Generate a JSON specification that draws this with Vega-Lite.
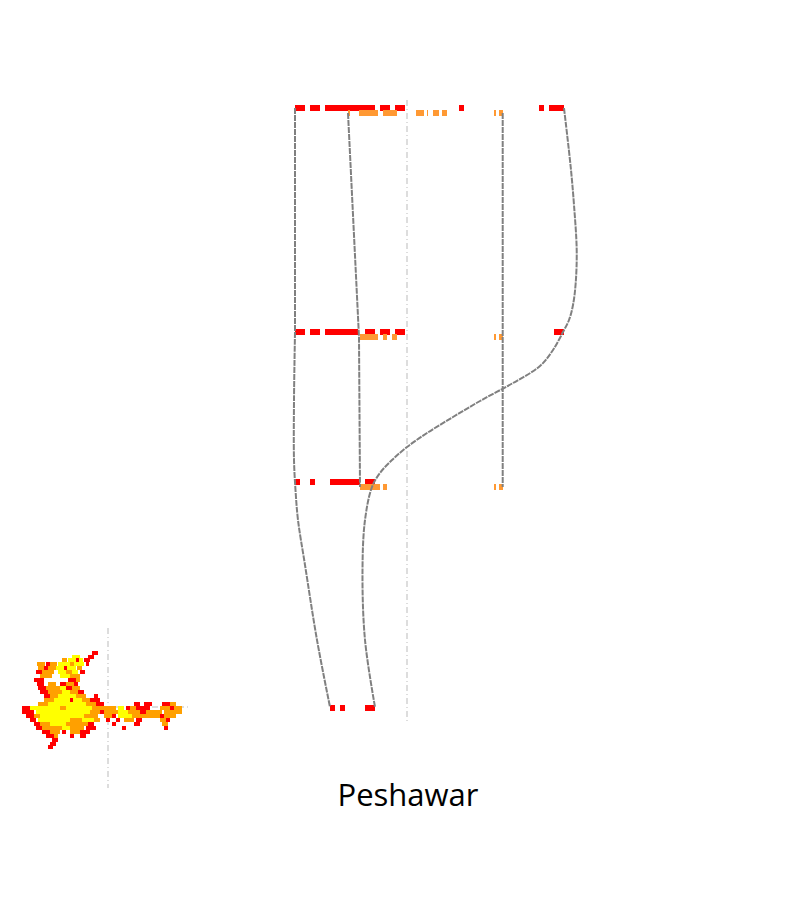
{
  "$schema": "https://vega.github.io/schema/vega-lite/v6.json",
  "width": 800,
  "height": 900,
  "autosize": "none",
  "padding": 0,
  "background": "white",
  "config": {"view": {"stroke": null}, "scale": {"continuousPadding": 0}},
  "encoding": {
    "x": {"field": "x", "type": "quantitative", "scale": {"domain": [0, 800], "nice": false, "zero": false, "padding": 0}, "axis": null},
    "y": {"field": "y", "type": "quantitative", "scale": {"domain": [0, 900], "nice": false, "zero": false, "reverse": true, "padding": 0}, "axis": null}
  },
  "layer": [
    {
      "data": {"values": [
        {"x": 407, "y": 100, "y2": 722},
        {"x": 108, "y": 628, "y2": 788}
      ]},
      "mark": {"type": "rule", "color": "#dddddd", "strokeWidth": 2, "strokeDash": [6, 3, 1, 3]},
      "encoding": {"y2": {"field": "y2"}}
    },
    {
      "data": {"values": [
        {"x": 22, "x2": 188, "y": 707}
      ]},
      "mark": {"type": "rule", "color": "#dddddd", "strokeWidth": 2, "strokeDash": [6, 3, 1, 3]},
      "encoding": {"x2": {"field": "x2"}}
    },
    {
      "data": {"values": [
        {"row": 1, "kind": "red", "x": 295, "x2": 305, "y": 108},
        {"row": 1, "kind": "red", "x": 310, "x2": 320, "y": 108},
        {"row": 1, "kind": "red", "x": 325, "x2": 375, "y": 108},
        {"row": 1, "kind": "red", "x": 380, "x2": 390, "y": 108},
        {"row": 1, "kind": "red", "x": 395, "x2": 405, "y": 108},
        {"row": 1, "kind": "red", "x": 459, "x2": 464, "y": 108},
        {"row": 1, "kind": "red", "x": 539, "x2": 544, "y": 108},
        {"row": 1, "kind": "red", "x": 549, "x2": 564, "y": 108},
        {"row": 1, "kind": "orange", "x": 348, "x2": 350, "y": 113},
        {"row": 1, "kind": "orange", "x": 359, "x2": 378, "y": 113},
        {"row": 1, "kind": "orange", "x": 383, "x2": 397, "y": 113},
        {"row": 1, "kind": "orange", "x": 416, "x2": 424, "y": 113},
        {"row": 1, "kind": "orange", "x": 427, "x2": 428, "y": 113},
        {"row": 1, "kind": "orange", "x": 433, "x2": 439, "y": 113},
        {"row": 1, "kind": "orange", "x": 442, "x2": 447, "y": 113},
        {"row": 1, "kind": "orange", "x": 494, "x2": 496, "y": 113},
        {"row": 1, "kind": "orange", "x": 499, "x2": 503, "y": 113},
        {"row": 2, "kind": "red", "x": 295, "x2": 305, "y": 332},
        {"row": 2, "kind": "red", "x": 310, "x2": 320, "y": 332},
        {"row": 2, "kind": "red", "x": 325, "x2": 358, "y": 332},
        {"row": 2, "kind": "red", "x": 365, "x2": 375, "y": 332},
        {"row": 2, "kind": "red", "x": 380, "x2": 390, "y": 332},
        {"row": 2, "kind": "red", "x": 395, "x2": 405, "y": 332},
        {"row": 2, "kind": "red", "x": 554, "x2": 564, "y": 332},
        {"row": 2, "kind": "orange", "x": 360, "x2": 378, "y": 337},
        {"row": 2, "kind": "orange", "x": 383, "x2": 387, "y": 337},
        {"row": 2, "kind": "orange", "x": 392, "x2": 397, "y": 337},
        {"row": 2, "kind": "orange", "x": 494, "x2": 496, "y": 337},
        {"row": 2, "kind": "orange", "x": 499, "x2": 503, "y": 337},
        {"row": 3, "kind": "red", "x": 295, "x2": 300, "y": 482},
        {"row": 3, "kind": "red", "x": 310, "x2": 315, "y": 482},
        {"row": 3, "kind": "red", "x": 330, "x2": 360, "y": 482},
        {"row": 3, "kind": "red", "x": 365, "x2": 375, "y": 482},
        {"row": 3, "kind": "orange", "x": 360, "x2": 380, "y": 487},
        {"row": 3, "kind": "orange", "x": 383, "x2": 387, "y": 487},
        {"row": 3, "kind": "orange", "x": 494, "x2": 496, "y": 487},
        {"row": 3, "kind": "orange", "x": 499, "x2": 503, "y": 487},
        {"row": 4, "kind": "red", "x": 330, "x2": 335, "y": 708},
        {"row": 4, "kind": "red", "x": 340, "x2": 345, "y": 708},
        {"row": 4, "kind": "red", "x": 365, "x2": 375, "y": 708}
      ]},
      "mark": {"type": "bar", "orient": "horizontal", "size": 6},
      "encoding": {
        "x2": {"field": "x2"},
        "color": {"field": "kind", "type": "nominal", "scale": {"domain": ["red", "orange"], "range": ["#ff0000", "#ff9933"]}, "legend": null}
      }
    },
    {
      "data": {"values": [
        {"path": "B", "i": 1, "x": 348, "y": 113},
        {"path": "B", "i": 2, "x": 359, "y": 337},
        {"path": "B", "i": 3, "x": 360, "y": 487},
        {"path": "C", "i": 1, "x": 502.7, "y": 113},
        {"path": "C", "i": 2, "x": 502.7, "y": 487},
        {"path": "A1", "i": 1, "x": 295, "y": 108},
        {"path": "A1", "i": 2, "x": 295, "y": 332}
      ]},
      "mark": {"type": "line", "color": "#808080", "strokeWidth": 2, "strokeDash": [6, 1]},
      "encoding": {
        "detail": {"field": "path", "type": "nominal"},
        "order": {"field": "i", "type": "quantitative"}
      }
    },
    {
      "data": {"values": [
        {"path": "A2", "i": 1, "x": 295, "y": 332},
        {"path": "A2", "i": 2, "x": 294, "y": 400},
        {"path": "A2", "i": 3, "x": 294, "y": 460},
        {"path": "A2", "i": 4, "x": 295.5, "y": 490},
        {"path": "A2", "i": 5, "x": 298, "y": 520},
        {"path": "A2", "i": 6, "x": 305, "y": 565},
        {"path": "A2", "i": 7, "x": 317, "y": 640},
        {"path": "A2", "i": 8, "x": 330, "y": 707},
        {"path": "D", "i": 1, "x": 564, "y": 108},
        {"path": "D", "i": 2, "x": 570.7, "y": 167},
        {"path": "D", "i": 3, "x": 574, "y": 205},
        {"path": "D", "i": 4, "x": 576.7, "y": 250},
        {"path": "D", "i": 5, "x": 575.7, "y": 283},
        {"path": "D", "i": 6, "x": 573, "y": 305},
        {"path": "D", "i": 7, "x": 569, "y": 320},
        {"path": "D", "i": 8, "x": 563, "y": 332},
        {"path": "D", "i": 9, "x": 553, "y": 350},
        {"path": "D", "i": 10, "x": 540, "y": 366},
        {"path": "D", "i": 11, "x": 513, "y": 383},
        {"path": "D", "i": 12, "x": 480, "y": 401},
        {"path": "D", "i": 13, "x": 453, "y": 417},
        {"path": "D", "i": 14, "x": 427, "y": 433},
        {"path": "D", "i": 15, "x": 407, "y": 447},
        {"path": "D", "i": 16, "x": 392, "y": 460},
        {"path": "D", "i": 17, "x": 380, "y": 473},
        {"path": "D", "i": 18, "x": 372, "y": 487},
        {"path": "D", "i": 19, "x": 365, "y": 520},
        {"path": "D", "i": 20, "x": 362.5, "y": 570},
        {"path": "D", "i": 21, "x": 365, "y": 640},
        {"path": "D", "i": 22, "x": 375, "y": 707}
      ]},
      "mark": {"type": "line", "color": "#808080", "strokeWidth": 2, "strokeDash": [6, 1], "interpolate": "catmull-rom"},
      "encoding": {
        "detail": {"field": "path", "type": "nominal"},
        "order": {"field": "i", "type": "quantitative"}
      }
    },
    {
      "data": {"values": [
        {"y": 653, "x": 92, "x2": 98, "c": "r"},
        {"y": 657, "x": 88, "x2": 94, "c": "r"},
        {"y": 657, "x": 72, "x2": 80, "c": "y"},
        {"y": 660, "x": 62, "x2": 67, "c": "o"},
        {"y": 660, "x": 68, "x2": 76, "c": "y"},
        {"y": 660, "x": 76, "x2": 79, "c": "r"},
        {"y": 660, "x": 79, "x2": 83, "c": "y"},
        {"y": 660, "x": 84, "x2": 90, "c": "r"},
        {"y": 664, "x": 37, "x2": 45, "c": "o"},
        {"y": 664, "x": 46, "x2": 50, "c": "r"},
        {"y": 664, "x": 50, "x2": 57, "c": "o"},
        {"y": 664, "x": 58, "x2": 70, "c": "y"},
        {"y": 664, "x": 70, "x2": 74, "c": "o"},
        {"y": 664, "x": 74, "x2": 84, "c": "y"},
        {"y": 664, "x": 86, "x2": 89, "c": "r"},
        {"y": 668, "x": 38, "x2": 44, "c": "o"},
        {"y": 668, "x": 44, "x2": 48, "c": "r"},
        {"y": 668, "x": 48, "x2": 56, "c": "o"},
        {"y": 668, "x": 56, "x2": 64, "c": "y"},
        {"y": 668, "x": 64, "x2": 67, "c": "r"},
        {"y": 668, "x": 67, "x2": 76, "c": "y"},
        {"y": 668, "x": 77, "x2": 82, "c": "o"},
        {"y": 672, "x": 36, "x2": 42, "c": "r"},
        {"y": 672, "x": 42, "x2": 54, "c": "o"},
        {"y": 672, "x": 58, "x2": 66, "c": "y"},
        {"y": 672, "x": 66, "x2": 72, "c": "o"},
        {"y": 672, "x": 72, "x2": 78, "c": "y"},
        {"y": 672, "x": 80, "x2": 85, "c": "r"},
        {"y": 676, "x": 40, "x2": 52, "c": "o"},
        {"y": 676, "x": 60, "x2": 70, "c": "y"},
        {"y": 676, "x": 70, "x2": 80, "c": "o"},
        {"y": 680, "x": 34, "x2": 44, "c": "r"},
        {"y": 680, "x": 68, "x2": 76, "c": "r"},
        {"y": 680, "x": 76, "x2": 80, "c": "o"},
        {"y": 684, "x": 37, "x2": 44, "c": "r"},
        {"y": 684, "x": 48, "x2": 56, "c": "o"},
        {"y": 684, "x": 60, "x2": 66, "c": "r"},
        {"y": 684, "x": 66, "x2": 74, "c": "o"},
        {"y": 684, "x": 74, "x2": 78, "c": "r"},
        {"y": 688, "x": 38, "x2": 46, "c": "r"},
        {"y": 688, "x": 46, "x2": 60, "c": "o"},
        {"y": 688, "x": 60, "x2": 66, "c": "y"},
        {"y": 688, "x": 66, "x2": 72, "c": "r"},
        {"y": 688, "x": 72, "x2": 80, "c": "o"},
        {"y": 692, "x": 40, "x2": 48, "c": "r"},
        {"y": 692, "x": 48, "x2": 62, "c": "o"},
        {"y": 692, "x": 62, "x2": 70, "c": "y"},
        {"y": 692, "x": 70, "x2": 78, "c": "o"},
        {"y": 692, "x": 78, "x2": 84, "c": "r"},
        {"y": 696, "x": 44, "x2": 50, "c": "r"},
        {"y": 696, "x": 50, "x2": 58, "c": "o"},
        {"y": 696, "x": 58, "x2": 76, "c": "y"},
        {"y": 696, "x": 76, "x2": 86, "c": "o"},
        {"y": 696, "x": 94, "x2": 98, "c": "r"},
        {"y": 700, "x": 44, "x2": 54, "c": "o"},
        {"y": 700, "x": 54, "x2": 70, "c": "y"},
        {"y": 700, "x": 70, "x2": 73, "c": "r"},
        {"y": 700, "x": 73, "x2": 82, "c": "y"},
        {"y": 700, "x": 82, "x2": 90, "c": "o"},
        {"y": 700, "x": 90, "x2": 100, "c": "r"},
        {"y": 704, "x": 38, "x2": 48, "c": "o"},
        {"y": 704, "x": 48, "x2": 86, "c": "y"},
        {"y": 704, "x": 86, "x2": 96, "c": "o"},
        {"y": 704, "x": 96, "x2": 104, "c": "r"},
        {"y": 704, "x": 134, "x2": 140, "c": "r"},
        {"y": 704, "x": 144, "x2": 152, "c": "r"},
        {"y": 704, "x": 162, "x2": 170, "c": "r"},
        {"y": 704, "x": 170, "x2": 176, "c": "o"},
        {"y": 708, "x": 22, "x2": 30, "c": "r"},
        {"y": 708, "x": 30, "x2": 60, "c": "y"},
        {"y": 708, "x": 60, "x2": 66, "c": "o"},
        {"y": 708, "x": 66, "x2": 92, "c": "y"},
        {"y": 708, "x": 92, "x2": 104, "c": "o"},
        {"y": 708, "x": 104, "x2": 116, "c": "o"},
        {"y": 708, "x": 118, "x2": 124, "c": "y"},
        {"y": 708, "x": 126, "x2": 130, "c": "r"},
        {"y": 708, "x": 130, "x2": 136, "c": "o"},
        {"y": 708, "x": 136, "x2": 150, "c": "r"},
        {"y": 708, "x": 160, "x2": 170, "c": "o"},
        {"y": 708, "x": 170, "x2": 174, "c": "r"},
        {"y": 708, "x": 174, "x2": 182, "c": "o"},
        {"y": 712, "x": 22, "x2": 34, "c": "r"},
        {"y": 712, "x": 36, "x2": 90, "c": "y"},
        {"y": 712, "x": 90, "x2": 100, "c": "o"},
        {"y": 712, "x": 100, "x2": 104, "c": "r"},
        {"y": 712, "x": 104, "x2": 118, "c": "o"},
        {"y": 712, "x": 118, "x2": 128, "c": "y"},
        {"y": 712, "x": 128, "x2": 140, "c": "o"},
        {"y": 712, "x": 140, "x2": 146, "c": "r"},
        {"y": 712, "x": 146, "x2": 162, "c": "o"},
        {"y": 712, "x": 164, "x2": 182, "c": "o"},
        {"y": 716, "x": 26, "x2": 34, "c": "r"},
        {"y": 716, "x": 34, "x2": 40, "c": "o"},
        {"y": 716, "x": 40, "x2": 84, "c": "y"},
        {"y": 716, "x": 84, "x2": 98, "c": "o"},
        {"y": 716, "x": 104, "x2": 112, "c": "o"},
        {"y": 716, "x": 112, "x2": 116, "c": "r"},
        {"y": 716, "x": 118, "x2": 132, "c": "y"},
        {"y": 716, "x": 132, "x2": 160, "c": "o"},
        {"y": 716, "x": 160, "x2": 164, "c": "r"},
        {"y": 716, "x": 164, "x2": 176, "c": "o"},
        {"y": 720, "x": 30, "x2": 36, "c": "r"},
        {"y": 720, "x": 38, "x2": 70, "c": "y"},
        {"y": 720, "x": 70, "x2": 82, "c": "o"},
        {"y": 720, "x": 82, "x2": 94, "c": "y"},
        {"y": 720, "x": 94, "x2": 100, "c": "o"},
        {"y": 720, "x": 106, "x2": 110, "c": "r"},
        {"y": 720, "x": 116, "x2": 120, "c": "r"},
        {"y": 720, "x": 124, "x2": 134, "c": "o"},
        {"y": 720, "x": 136, "x2": 142, "c": "r"},
        {"y": 720, "x": 160, "x2": 166, "c": "o"},
        {"y": 720, "x": 166, "x2": 170, "c": "r"},
        {"y": 724, "x": 34, "x2": 40, "c": "r"},
        {"y": 724, "x": 40, "x2": 50, "c": "o"},
        {"y": 724, "x": 50, "x2": 66, "c": "y"},
        {"y": 724, "x": 66, "x2": 88, "c": "o"},
        {"y": 724, "x": 88, "x2": 94, "c": "r"},
        {"y": 724, "x": 112, "x2": 116, "c": "r"},
        {"y": 724, "x": 134, "x2": 140, "c": "r"},
        {"y": 724, "x": 162, "x2": 168, "c": "o"},
        {"y": 728, "x": 36, "x2": 42, "c": "r"},
        {"y": 728, "x": 42, "x2": 62, "c": "o"},
        {"y": 728, "x": 62, "x2": 70, "c": "y"},
        {"y": 728, "x": 70, "x2": 84, "c": "o"},
        {"y": 728, "x": 86, "x2": 96, "c": "r"},
        {"y": 728, "x": 122, "x2": 126, "c": "r"},
        {"y": 728, "x": 164, "x2": 168, "c": "r"},
        {"y": 732, "x": 42, "x2": 50, "c": "r"},
        {"y": 732, "x": 50, "x2": 60, "c": "o"},
        {"y": 732, "x": 62, "x2": 66, "c": "r"},
        {"y": 732, "x": 70, "x2": 80, "c": "o"},
        {"y": 732, "x": 80, "x2": 90, "c": "r"},
        {"y": 736, "x": 46, "x2": 54, "c": "r"},
        {"y": 736, "x": 54, "x2": 58, "c": "o"},
        {"y": 736, "x": 70, "x2": 74, "c": "r"},
        {"y": 736, "x": 80, "x2": 86, "c": "r"},
        {"y": 740, "x": 52, "x2": 58, "c": "r"},
        {"y": 744, "x": 50, "x2": 56, "c": "r"},
        {"y": 747, "x": 48, "x2": 53, "c": "r"}
      ]},
      "mark": {"type": "bar", "orient": "horizontal", "size": 4},
      "encoding": {
        "x2": {"field": "x2"},
        "color": {"field": "c", "type": "nominal", "scale": {"domain": ["r", "o", "y"], "range": ["#ff0000", "#ffa000", "#ffff00"]}, "legend": null}
      }
    },
    {
      "data": {"values": [
        {"x": 408, "y": 797, "label": "Peshawar"}
      ]},
      "mark": {"type": "text", "font": "Open Sans", "fontSize": 31, "align": "center", "baseline": "middle", "color": "black"},
      "encoding": {"text": {"field": "label", "type": "nominal"}}
    }
  ],
  "resolve": {"scale": {"color": "independent"}}
}
